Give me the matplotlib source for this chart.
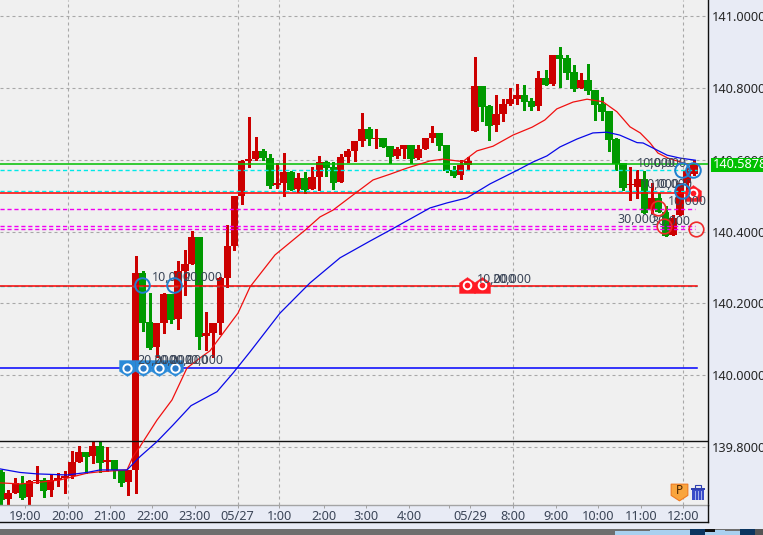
import matplotlib
matplotlib.use("Agg")
import matplotlib.pyplot as plt
from matplotlib.path import Path
from matplotlib.patches import Rectangle

# candle values: (top of body, bottom of body, high, low); green = falling, red = rising
body_top = [139.731,139.673,139.699,139.697,139.705,139.708,139.708,139.708,139.714,139.719,
            139.758,139.786,139.786,139.803,139.803,139.764,139.764,139.736,139.736,140.284,
            140.284,140.148,140.145,140.226,140.226,140.290,140.310,140.385,140.385,140.117,
            140.145,140.271,140.360,140.499,140.597,140.602,140.625,140.625,140.605,140.535,
            140.566,140.566,140.549,140.549,140.552,140.594,140.594,140.580,140.608,140.625,
            140.652,140.686,140.686,140.661,140.661,140.638,140.630,140.641,140.641,140.630,
            140.661,140.675,140.675,140.641,140.572,140.586,140.597,140.806,140.806,140.750,
            140.728,140.755,140.769,140.781,140.781,140.764,140.828,140.828,140.892,140.892,
            140.884,140.845,140.822,140.822,140.794,140.755,140.736,140.658,140.591,140.533,
            140.547,140.547,140.494,140.494,140.455,140.438,140.535,140.572,140.588]
body_bot = [139.652,139.656,139.673,139.659,139.661,139.705,139.678,139.680,139.708,139.713,
            139.719,139.758,139.772,139.775,139.756,139.758,139.736,139.699,139.702,139.736,
            140.146,140.076,140.079,140.145,140.154,140.156,140.290,140.310,140.106,140.109,
            140.117,140.145,140.271,140.360,140.500,140.597,140.602,140.605,140.527,140.530,
            140.535,140.516,140.519,140.516,140.519,140.552,140.577,140.535,140.538,140.608,
            140.625,140.652,140.658,140.658,140.636,140.608,140.611,140.630,140.602,140.605,
            140.630,140.661,140.638,140.569,140.555,140.558,140.586,140.680,140.747,140.694,
            140.697,140.728,140.755,140.769,140.761,140.747,140.750,140.808,140.811,140.881,
            140.842,140.797,140.800,140.792,140.753,140.733,140.655,140.588,140.521,140.530,
            140.524,140.452,140.463,140.455,140.388,140.390,140.446,140.535,140.560]
highs = [139.736,139.680,139.713,139.719,139.708,139.747,139.713,139.722,139.728,139.734,
         139.790,139.803,139.786,139.817,139.817,139.799,139.764,139.736,139.736,140.332,
         140.290,140.228,140.145,140.230,140.226,140.318,140.349,140.402,140.385,140.176,
         140.145,140.273,140.418,140.499,140.599,140.720,140.664,140.630,140.616,140.591,
         140.619,140.569,140.563,140.566,140.580,140.611,140.597,140.594,140.616,140.630,
         140.652,140.730,140.691,140.686,140.661,140.638,140.636,140.641,140.641,140.641,
         140.661,140.694,140.675,140.641,140.583,140.599,140.608,140.886,140.806,140.753,
         140.781,140.769,140.800,140.811,140.808,140.772,140.847,140.850,140.892,140.914,
         140.892,140.864,140.842,140.867,140.794,140.775,140.736,140.661,140.591,140.580,
         140.572,140.569,140.535,140.507,140.471,140.446,140.535,140.577,140.599]
lows = [139.638,139.638,139.673,139.654,139.638,139.699,139.661,139.663,139.691,139.671,
        139.713,139.758,139.727,139.756,139.731,139.734,139.713,139.691,139.666,139.671,
        140.124,140.073,140.052,140.118,140.146,140.129,140.223,140.310,140.073,140.070,
        140.052,140.115,140.246,140.349,140.477,140.581,140.599,140.599,140.521,140.521,
        140.499,140.516,140.510,140.507,140.519,140.516,140.555,140.519,140.538,140.594,
        140.597,140.638,140.641,140.633,140.636,140.591,140.605,140.605,140.591,140.602,
        140.630,140.650,140.627,140.566,140.552,140.547,140.574,140.680,140.708,140.655,
        140.680,140.708,140.753,140.755,140.739,140.739,140.739,140.808,140.808,140.803,
        140.825,140.792,140.800,140.783,140.711,140.711,140.625,140.572,140.516,140.488,
        140.494,140.452,140.452,140.455,140.388,140.390,140.446,140.516,140.558]
is_up = [0,1,1,0,1,1,0,1,1,1, 1,1,0,1,0,1,0,0,1,1,
         0,0,1,1,0,1,1,1,0,1, 1,1,1,1,1,1,1,0,0,1,
         1,0,1,0,1,1,0,0,1,1, 1,1,0,1,0,0,1,1,0,1,
         1,1,0,0,0,1,1,1,0,0, 1,1,1,1,0,0,1,0,1,0,
         0,0,1,0,0,0,0,0,0,1, 1,0,1,0,0,1,1,1,1]

ma_fast_x = [-0.2,2.66,5.49,8.32,9.31,12.14,13.98,17.8,18.64,19.63,22.04,24.16,26.28,28.12,29.54,
             31.38,33.5,35.2,38.73,42.98,45.1,46.94,49.76,52.6,55.0,57.4,60.66,62.5,65.3,67.3,
             69.57,72.4,75.1,76.9,78.6,80.9,82.87,85.1,87.1,88.95,90.4,91.8,92.9,94.3,97.4]
ma_fast_y = [139.700,139.697,139.702,139.708,139.713,139.727,139.731,139.736,139.773,139.801,139.875,
             139.931,140.020,140.048,140.068,140.117,140.173,140.246,140.335,140.404,140.441,140.460,
             140.502,140.544,140.560,140.577,140.597,140.602,140.595,140.625,140.638,140.669,140.691,
             140.711,140.742,140.761,140.769,140.762,140.734,140.692,140.675,140.647,140.619,140.605,140.586]
ma_slow_x = [-0.2,2.66,5.06,9.31,12.14,13.98,17.8,19.63,22.04,24.3,26.85,30.53,32.8,35.2,39.44,43.68,
             47.93,52.2,55.28,60.66,63.06,65.9,69.15,73.1,75.23,77.2,79.05,81.45,83.7,85.7,87.5,
             89.95,90.8,94.2,96.0,98.2]
ma_slow_y = [139.739,139.729,139.725,139.722,139.729,139.736,139.736,139.773,139.815,139.861,139.915,
             139.954,140.006,140.065,140.173,140.257,140.327,140.374,140.407,140.466,140.480,140.494,
             140.533,140.572,140.594,140.611,140.636,140.658,140.675,140.677,140.669,140.648,140.647,
             140.613,140.605,140.599]

y_ticks = [139.8,140.0,140.2,140.4,140.6,140.8,141.0]
y_tick_labels = ["139.8000","140.0000","140.2000","140.4000","140.6000","140.8000","141.0000"]
x_ticks = [3.37,9.39,15.39,21.4,27.4,33.43,39.34,45.6,51.6,57.7,63.3,66.3,72.46,78.5,84.4,90.5,96.4]
x_tick_labels = ["19:00","20:00","21:00","22:00","23:00","05/27","1:00","2:00","3:00","4:00","",
                 "05/29","8:00","9:00","10:00","11:00","12:00"]
x_grid = [9.39,33.43,39.34,72.46,96.4]

last_price = 140.5878
solid_levels = [(140.5878,"#00c000"),(140.5068,"#ff0000"),(140.2477,"#ff0000"),(140.0192,"#0000ff")]
cyan_levels = [140.5717,140.5124,140.2495]
magenta_levels = [140.4622,140.4143,140.4065]
black_level = 139.8158

pins_x = [17.75,20.02,22.28,24.59]
pins_y = [140.020,140.020,140.020,140.020]
houses_x = [65.85,68.06,97.87]
houses_y = [140.250,140.250,140.508]
blue_rings_x = [19.88,24.4,96.35,97.9,96.35]
blue_rings_y = [140.252,140.252,140.572,140.572,140.514]
red_rings_x = [92.96,93.8,98.3]
red_rings_y = [140.465,140.416,140.406]
amount_x = [21.29,25.72,19.2,21.47,23.74,25.86,67.31,69.43,89.94,91.5,90.5,92.35,94.33,87.25,92.06]
amount_y = [140.271,140.271,140.040,140.040,140.040,140.040,140.268,140.268,140.591,140.591,
            140.530,140.530,140.483,140.435,140.427]
amount_text = ["10,000","20,000","20,000","20,000","20,000","20,000","10,000","20,000","10,000",
               "10,000","10,000","10,000","10,000","30,000","30,000"]

plt.rcParams["font.family"] = ["Noto Sans", "DejaVu Sans"]
W, H = 763, 535
PANEL = "#e8ebf5"
fig = plt.figure(figsize=(W / 100, H / 100), dpi=100, facecolor=PANEL)
ax = fig.add_axes([0, (H - 505) / H, 707.5 / W, 505 / H], facecolor="#f0f0f0", zorder=1)

PX = 7.069
ax.set_xlim(-1.2 / PX, (707.5 - 1.2) / PX)
ax.set_ylim(139.6383, 141.0454)

# grid
dash = (0, (2.7, 2.7))
for g in x_grid:
    ax.axvline(g, color="#a8a8a8", lw=0.8, ls=dash, zorder=1)
for t in y_ticks:
    ax.axhline(t, color="#a8a8a8", lw=0.8, ls=dash, zorder=1)

# candles
xs = list(range(len(body_top)))
cols = ["#cc0000" if u else "#009900" for u in is_up]
ax.vlines(xs, lows, highs, colors=cols, lw=0.8, zorder=2, antialiased=False)
ax.bar(xs, [a - b for a, b in zip(body_top, body_bot)], bottom=body_bot, width=1.07, color=cols,
       linewidth=0, zorder=3, antialiased=True)

# level lines
for lvl in cyan_levels:
    ax.axhline(lvl, xmax=697 / 707.5, color="#00e8e8", lw=1.0, ls=(0, (3, 2)), zorder=4)
for lvl in magenta_levels:
    ax.axhline(lvl, xmax=695 / 707.5, color="#f000f0", lw=1.0, ls=(0, (3, 2)), zorder=4)
for lvl, c in solid_levels:
    ax.axhline(lvl, xmax=(697 if c != "#00c000" else 707.5) / 707.5, color=c, lw=1.1, zorder=4)
ax.axhline(black_level, color="#101010", lw=1.0, zorder=4)

# moving averages
ax.plot(ma_fast_x, ma_fast_y, color="#f01010", lw=0.9, zorder=5)
ax.plot(ma_slow_x, ma_slow_y, color="#0808e8", lw=0.9, zorder=5)

# trade markers
pin = Path([(-1, 1), (1, 1), (1, -0.35), (0, -1), (-1, -0.35), (-1, 1)], closed=True)
house = Path([(-1, -1), (1, -1), (1, 0.3), (0, 1), (-1, 0.3), (-1, -1)], closed=True)
ax.plot(pins_x, pins_y, ls="", marker=pin, ms=11.5, mfc="#2a8ad8", mec="#2a8ad8", mew=0.3, zorder=6)
ax.plot(pins_x, pins_y, ls="", marker="o", ms=6, mfc="#2a7ac8", mec="white", mew=1.4, zorder=7)
ax.plot(houses_x, houses_y, ls="", marker=house, ms=11.5, mfc="#ff1a24", mec="#ff1a24", mew=0.3, zorder=6)
ax.plot(houses_x, houses_y, ls="", marker="o", ms=5.5, mfc="#ff1a24", mec="white", mew=1.4, zorder=7)
for tx, ty, s in zip(amount_x, amount_y, amount_text):
    ax.text(tx, ty, s, ha="left", va="center", fontsize=9, color="#3c4658", zorder=8)
ax.plot(blue_rings_x, blue_rings_y, ls="", marker="o", ms=10.5, mfc="none", mec="#1f7fcf", mew=1.4, zorder=9)
ax.plot(red_rings_x, red_rings_y, ls="", marker="o", ms=10.5, mfc="none", mec="#ee2a2a", mew=1.2, zorder=9)

# axes dressing
ax.yaxis.tick_right()
ax.set_yticks(y_ticks, y_tick_labels)
ax.set_xticks(x_ticks, x_tick_labels)
ax.tick_params(axis="y", length=0, pad=3, labelsize=9.2, labelcolor="#262626")
ax.tick_params(axis="x", length=2, width=0.7, color="#a0a0a0", pad=1.5, labelsize=9.2, labelcolor="#3c4658")
for s in ("top", "left"):
    ax.spines[s].set_visible(False)
ax.spines["bottom"].set_color("#a4a4a4")
ax.spines["bottom"].set_linewidth(1.0)
ax.spines["right"].set_color("#101010")
ax.spines["right"].set_linewidth(1.0)

# window chrome and icons, laid out in figure pixels
ch = fig.add_axes([0, 0, 1, 1], zorder=2)
ch.set_xlim(0, W)
ch.set_ylim(H, 0)
ch.axis("off")
ch.plot([0, 707.5], [522.3, 522.3], color="#101010", lw=1.0)
ch.plot([707.5, 707.5], [505, 522.3], color="#101010", lw=1.0)
ch.add_patch(Rectangle((0, 529), W, 6, color="#6e6e6e", lw=0))
ch.add_patch(Rectangle((615, 531), 148, 4, color="#a9d0ef", lw=0))
ch.add_patch(Rectangle((650, 530), 75, 5, color="#a9d0ef", lw=0))
ch.add_patch(Rectangle((690, 529), 15, 6, color="#0b3560", lw=0))
ch.add_patch(Rectangle((705, 529), 10, 3, color="#101010", lw=0))
ch.add_patch(Rectangle((740, 529), 15, 6, color="#0b3560", lw=0))
ch.add_patch(Rectangle((755, 529), 8, 6, color="#555555", lw=0))

# last price tag
ch.add_patch(Rectangle((711, 157.5), 52, 14, color="#00c000", lw=0))
ch.text(712.5, 164.4, f"{last_price:.4f}", color="white", fontsize=9.2, va="center", ha="left", clip_on=True)

# P and trash icons
ch.plot([679], [491.5], ls="", marker=pin, ms=12, mfc="#f9a53e", mec="#f07a20", mew=0.8)
ch.text(679, 490.5, "P", ha="center", va="center", fontsize=8.5, fontweight="bold", color="#4a2500")
ch.add_patch(Rectangle((690.5, 487.5), 14, 2, color="#2f3fb0", lw=0))
ch.add_patch(Rectangle((694.5, 484.5), 6, 3, fill=False, ec="#2f3fb0", lw=0.8))
ch.add_patch(Rectangle((691.5, 489.5), 12, 10.5, color="#3a4cc8", lw=0))
for bx in (694, 697, 700):
    ch.plot([bx + .5, bx + .5], [491, 499], color="#a8b4ec", lw=0.7)

fig.savefig("out.png", dpi=100, facecolor=fig.get_facecolor())
